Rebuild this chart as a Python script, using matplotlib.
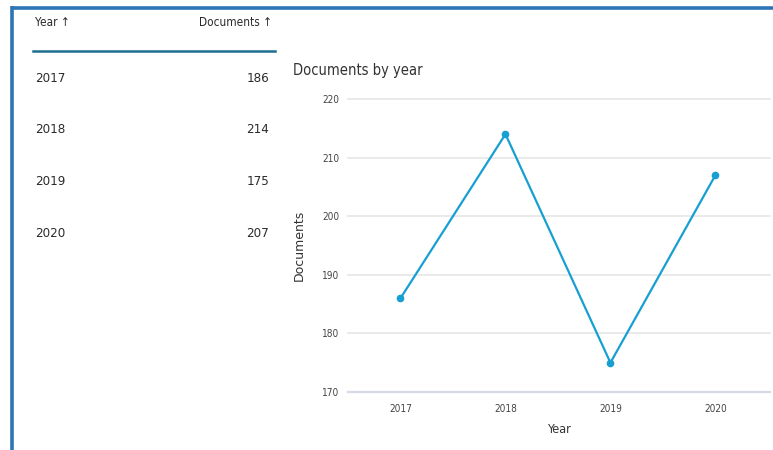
import matplotlib
import matplotlib.pyplot as plt
from matplotlib.lines import Line2D

matplotlib.use("Agg")

# data
years = [2017, 2018, 2019, 2020]
documents = [186, 214, 175, 207]
y_ticks = [170, 180, 190, 200, 210, 220]

plt.rcParams['font.family'] = ['DejaVu Sans']
plt.rcParams['font.stretch'] = 'condensed'

fig = plt.figure(figsize=(7.73, 4.5), dpi=100)

# blue frame on top and left
frame_color = '#2e75b6'
fig.add_artist(Line2D([11.5 / 773, 1], [1 - 7.5 / 450] * 2, color=frame_color, lw=2.6,
                      transform=fig.transFigure, solid_capstyle='butt'))
fig.add_artist(Line2D([11.5 / 773] * 2, [0, 1 - 6 / 450], color=frame_color, lw=2.6,
                      transform=fig.transFigure, solid_capstyle='butt'))

# table on the left
text_color = '#2b2b2b'
fig.text(35 / 773, 1 - 23 / 450, 'Year ↑', fontsize=8.5, color=text_color, va='center', ha='left')
fig.text(272 / 773, 1 - 23 / 450, 'Documents ↑', fontsize=8.5, color=text_color, va='center', ha='right')
fig.add_artist(Line2D([33 / 773, 275 / 773], [1 - 51 / 450] * 2, color='#1d6f8f', lw=1.8,
                      transform=fig.transFigure))
for i, (yr, val) in enumerate(zip(years, documents)):
    ypix = 78 + i * 51.7
    fig.text(35 / 773, 1 - ypix / 450, str(yr), fontsize=9.5, color=text_color, va='center', ha='left')
    fig.text(269 / 773, 1 - ypix / 450, str(val), fontsize=9.5, color=text_color, va='center', ha='right')

# line chart
ax = fig.add_axes([348 / 773, 1 - 392 / 450, 422 / 773, 293 / 450])
ax.plot(years, documents, color='#179fd2', lw=1.6, marker='o', markersize=4.5, clip_on=False, zorder=3)

ax.set_xlim(2016.5, 2020.52)
ax.set_ylim(170, 220)
ax.set_xticks(years)
ax.set_xticklabels([str(y) for y in years])
ax.set_yticks(y_ticks)
ax.tick_params(axis='both', length=0, labelsize=7.2, colors='#444444')
ax.tick_params(axis='y', pad=6)
ax.tick_params(axis='x', pad=9)
ax.grid(axis='y', color='#e6e6e6', lw=1.2)
for gl in ax.get_ygridlines():
    gl.set_clip_on(False)
ax.set_axisbelow(True)
for side in ['top', 'right', 'left']:
    ax.spines[side].set_visible(False)
ax.spines['bottom'].set_color('#d6d9e6')
ax.spines['bottom'].set_linewidth(1.6)

ax.set_xlabel('Year', fontsize=9, color='#333333', labelpad=6)
ax.set_ylabel('Documents', fontsize=9, color='#333333', fontstretch='normal', labelpad=12)

fig.text(293 / 773, 1 - 70 / 450, 'Documents by year', fontsize=10.5, color='#333333', va='center', ha='left')

fig.savefig('out.png', dpi=100)
